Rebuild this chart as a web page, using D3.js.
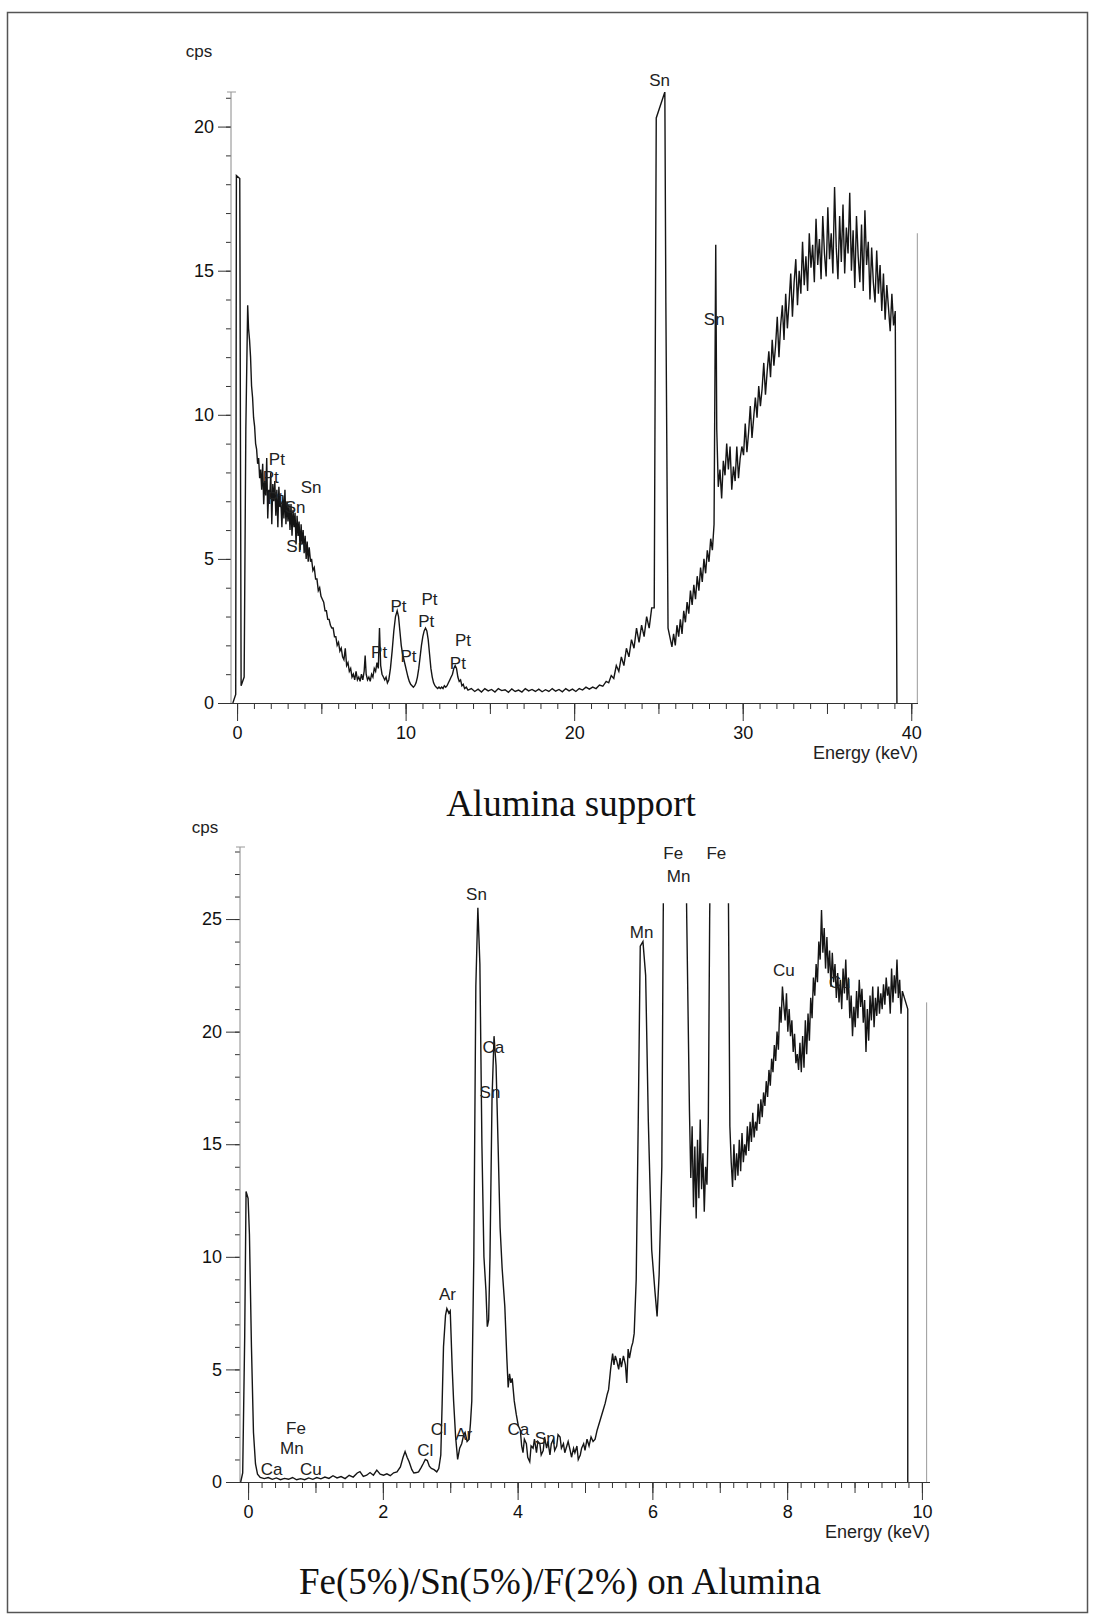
<!DOCTYPE html>
<html>
<head>
<meta charset="utf-8">
<script src="https://cdn.jsdelivr.net/npm/d3@7"></script>
<style>
  body { margin: 0; background: #fff; }
  svg { display: block; }
  .lbl { font-family: "Liberation Sans", Arial, sans-serif; }
  .title { font-family: "Liberation Serif", "Times New Roman", serif; }
</style>
</head>
<body>
<svg id="chart" width="1093" height="1618"></svg>
<script>
// ---------- EDS spectrum of the alumina support (energy keV, counts per second) ----------
const supportSpectrum = [
  [-0.25,0.0],[-0.08,0.3],[-0.04,18.3],[0.16,18.2],[0.24,0.6],[0.42,0.9],[0.52,9.5],[0.63,13.8],
  [0.68,13.0],[0.74,12.6],[0.8,12.0],[0.86,11.0],[0.92,10.6],[0.98,9.9],[1.04,9.6],[1.1,9.0],
  [1.16,8.8],[1.22,8.3],[1.28,8.5],[1.34,7.8],[1.4,8.1],[1.46,7.4],
  [1.52,8.3],[1.58,6.9],[1.64,7.7],[1.70,7.2],[1.76,8.5],[1.82,6.4],[1.88,7.4],[1.94,7.1],
  [2.00,8.0],[2.06,6.2],[2.12,7.6],[2.18,7.0],[2.24,7.7],[2.30,6.5],[2.36,7.4],[2.42,6.1],
  [2.48,7.5],[2.54,6.8],[2.60,7.0],[2.66,6.1],[2.72,7.2],[2.78,6.4],[2.84,7.4],[2.90,6.2],
  [2.96,7.0],[3.02,6.3],[3.08,6.9],[3.14,6.0],[3.20,6.9],[3.26,5.8],[3.32,6.7],[3.38,6.1],
  [3.44,6.6],[3.50,5.5],[3.56,6.5],[3.62,5.8],[3.68,6.3],[3.74,5.3],[3.80,6.2],[3.86,5.5],
  [3.92,6.0],[3.98,5.2],[4.04,5.8],[4.10,5.0],[4.16,5.6],[4.22,4.9],[4.28,5.4],
  [4.36,4.9],[4.42,5.0],[4.5,4.6],[4.58,4.7],[4.66,4.3],[4.74,4.3],[4.82,3.9],[4.9,4.0],
  [4.98,3.7],[5.06,3.6],[5.14,3.5],[5.22,3.2],[5.3,3.2],[5.38,2.9],[5.46,2.9],[5.54,2.7],
  [5.62,2.6],[5.7,2.6],[5.78,2.3],[5.86,2.3],[5.94,2.0],[6.02,2.1],[6.1,1.8],[6.18,1.9],
  [6.26,1.6],[6.34,1.5],[6.42,1.9],[6.5,1.3],[6.58,1.4],[6.66,1.1],[6.74,1.2],[6.82,0.9],
  [6.9,1.0],[6.98,0.8],[7.06,1.1],[7.14,0.8],[7.22,0.9],[7.3,0.75],[7.38,1.0],[7.46,0.8],
  [7.54,1.1],[7.6,1.65],[7.66,1.0],[7.74,0.8],[7.82,0.9],[7.9,0.75],[7.98,1.0],[8.06,0.9],
  [8.14,1.2],[8.22,1.1],[8.3,1.4],[8.38,1.2],[8.45,2.6],[8.52,1.3],[8.6,1.0],[8.68,0.9],
  [8.76,0.8],[8.84,0.9],[8.92,0.7],[9.0,0.8],[9.1,1.2],[9.2,1.8],[9.3,2.5],[9.4,3.0],
  [9.5,3.2],[9.58,3.0],[9.66,2.5],[9.74,2.0],[9.82,1.7],[9.9,1.5],[9.98,1.3],[10.06,1.1],
  [10.14,0.9],[10.22,0.75],[10.3,0.65],[10.38,0.6],[10.46,0.55],[10.54,0.6],[10.62,0.7],
  [10.7,0.9],[10.78,1.2],[10.86,1.6],[10.94,2.0],[11.02,2.3],[11.1,2.5],[11.18,2.6],
  [11.26,2.5],[11.34,2.2],[11.42,1.7],[11.5,1.2],[11.58,0.9],[11.66,0.7],[11.74,0.6],
  [11.82,0.55],[11.9,0.5],[11.98,0.55],[12.06,0.5],[12.14,0.55],[12.22,0.5],[12.3,0.6],
  [12.38,0.55],[12.46,0.6],[12.54,0.7],[12.62,0.8],[12.7,0.9],[12.78,1.0],[12.86,1.2],
  [12.94,1.3],[13.02,1.2],[13.1,0.9],[13.18,0.75],[13.26,0.8],[13.34,0.6],[13.42,0.65],
  [13.5,0.5],[13.6,0.55],[13.7,0.45],
  [13.9,0.5],[14.1,0.4],[14.3,0.48],[14.5,0.38],[14.7,0.5],[14.9,0.42],[15.1,0.47],[15.3,0.38],
  [15.5,0.5],[15.7,0.43],[15.9,0.46],[16.1,0.37],[16.3,0.49],[16.5,0.4],[16.7,0.45],[16.9,0.38],
  [17.1,0.5],[17.3,0.42],[17.5,0.47],[17.7,0.4],[17.9,0.48],[18.1,0.39],[18.3,0.46],[18.5,0.4],
  [18.7,0.5],[18.9,0.41],[19.1,0.47],[19.3,0.39],[19.5,0.5],[19.7,0.42],[19.9,0.48],[20.1,0.4],
  [20.3,0.5],[20.5,0.45],[20.7,0.55],[20.9,0.48],[21.1,0.55],[21.3,0.5],[21.5,0.62],[21.7,0.58],
  [21.9,0.75],[22.05,0.7],[22.2,0.95],[22.35,0.85],[22.5,1.3],[22.65,1.1],[22.8,1.6],[22.95,1.3],
  [23.1,1.9],[23.25,1.6],[23.4,2.2],[23.55,1.9],[23.7,2.6],[23.85,2.1],[24.0,2.7],[24.15,2.3],
  [24.3,3.0],[24.45,2.6],[24.6,3.3],[24.75,3.3],
  [24.87,20.3],[25.38,21.2],[25.44,13.9],[25.57,2.6],[25.8,1.95],
  [25.9,2.4],[26.0,2.0],[26.1,2.7],[26.2,2.3],[26.3,2.9],[26.4,2.4],[26.5,3.2],[26.6,2.8],
  [26.7,3.5],[26.8,3.1],[26.9,3.9],[27.0,3.4],[27.1,4.1],[27.2,3.6],[27.3,4.4],[27.4,3.9],
  [27.5,4.7],[27.6,4.2],[27.7,5.0],[27.8,4.5],[27.9,5.3],[28.0,4.9],[28.1,5.7],[28.2,5.3],
  [28.3,6.2],[28.4,15.9],[28.46,9.5],[28.55,7.5],[28.65,8.1],[28.75,7.1],[28.85,8.4],[28.95,7.9],
  [29.05,9.0],[29.15,8.1],[29.25,8.9],[29.35,7.4],[29.45,8.2],[29.55,7.7],[29.65,8.9],[29.75,7.8],
  [29.85,8.5],[29.95,8.9],[30.05,8.6],[30.15,9.7],[30.25,8.7],[30.35,9.4],[30.45,10.3],[30.55,9.2],
  [30.65,9.9],[30.75,10.6],[30.85,9.9],[30.95,11.0],[31.05,10.3],[31.15,10.9],[31.25,11.8],
  [31.35,10.7],[31.45,11.5],[31.55,12.2],[31.65,11.3],[31.75,12.6],[31.85,11.7],[31.95,12.4],
  [32.05,13.4],[32.15,12.0],[32.25,13.1],[32.35,13.8],[32.45,12.6],[32.55,14.2],[32.65,13.0],
  [32.75,13.9],[32.85,14.9],[32.95,13.4],[33.05,14.6],[33.15,15.4],[33.25,13.8],[33.35,15.0],
  [33.45,14.2],[33.55,16.0],[33.65,14.5],[33.75,15.5],[33.85,14.3],[33.95,16.3],[34.05,15.1],
  [34.15,15.9],[34.25,14.6],[34.35,16.8],[34.45,15.2],[34.55,16.1],[34.65,14.7],[34.75,16.9],
  [34.85,15.6],[34.95,14.8],[35.05,17.2],[35.15,15.4],[35.25,16.3],[35.35,14.9],[35.45,17.9],
  [35.55,15.8],[35.65,14.7],[35.75,16.9],[35.85,15.3],[35.95,17.3],[36.05,14.9],[36.15,16.5],
  [36.25,15.6],[36.35,17.7],[36.45,15.0],[36.55,16.4],[36.65,14.4],[36.75,16.9],[36.85,15.5],
  [36.95,14.6],[37.05,16.6],[37.15,14.3],[37.25,17.1],[37.35,15.2],[37.45,16.0],[37.55,14.0],
  [37.65,15.8],[37.75,14.6],[37.85,13.9],[37.95,15.7],[38.05,14.2],[38.15,15.2],[38.25,13.6],
  [38.35,14.9],[38.45,13.3],[38.55,14.5],[38.65,13.7],[38.75,12.9],[38.85,14.2],[38.95,13.1],
  [39.05,13.6],[39.15,0.0]
];
// cursor line at the right end of the energy window [keV, cps]
const supportCursor = [40.36, 16.3];
const supportXTickLabels = [0, 10, 20, 30, 40];
const supportYTickLabels = [0, 5, 10, 15, 20];
const supportPeakLabels = [
  ["Sn", 25.07, 21.6], ["Sn", 28.31, 13.3],
  ["Pt", 2.36, 8.46], ["Pt", 2.0, 7.84], ["Pt", 2.26, 7.1],
  ["Sn", 4.39, 7.49], ["Sn", 3.44, 6.8], ["Sn", 3.54, 5.43],
  ["Pt", 8.43, 1.76], ["Pt", 9.58, 3.34], ["Pt", 10.17, 1.63],
  ["Pt", 11.42, 3.58], ["Pt", 11.22, 2.82], ["Pt", 13.4, 2.16], ["Pt", 13.1, 1.38]
];

// ---------- EDS spectrum of Fe(5%)/Sn(5%)/F(2%) on alumina ----------
const catalystSpectrum = [
  [-0.11,0.0],[-0.08,0.4],[-0.05,6.5],[-0.03,12.9],[0.0,12.6],[0.02,11.0],[0.05,6.0],[0.08,2.2],
  [0.11,0.8],[0.14,0.35],[0.18,0.2],[0.24,0.15],[0.3,0.2],[0.36,0.12],[0.42,0.18],[0.48,0.1],
  [0.54,0.16],[0.6,0.12],[0.66,0.2],[0.72,0.1],[0.78,0.15],[0.84,0.1],[0.9,0.18],[0.96,0.12],
  [1.02,0.2],[1.08,0.14],[1.14,0.22],[1.2,0.16],[1.26,0.28],[1.32,0.18],[1.38,0.24],[1.44,0.15],
  [1.5,0.3],[1.56,0.22],[1.62,0.4],[1.66,0.46],[1.71,0.25],[1.76,0.3],[1.81,0.42],[1.86,0.3],
  [1.91,0.53],[1.96,0.35],[2.01,0.3],[2.06,0.36],[2.11,0.28],[2.16,0.41],[2.21,0.45],[2.26,0.67],
  [2.3,1.1],[2.33,1.35],[2.36,1.1],[2.39,0.9],[2.43,0.55],[2.46,0.4],[2.5,0.42],[2.53,0.45],
  [2.57,0.65],[2.6,0.82],[2.63,1.0],[2.66,0.95],[2.69,0.7],[2.72,0.6],[2.76,0.55],[2.8,0.45],
  [2.83,0.6],[2.86,1.2],[2.88,3.5],[2.9,6.0],[2.93,7.4],[2.95,7.7],[2.98,7.5],[3.0,7.6],
  [3.03,5.0],[3.05,3.6],[3.08,2.0],[3.11,1.0],[3.14,1.5],[3.17,1.7],[3.2,2.1],[3.22,2.2],
  [3.25,1.8],[3.28,1.9],[3.3,2.6],[3.32,3.6],[3.35,10.0],[3.38,22.0],[3.41,25.5],[3.44,23.0],
  [3.47,15.0],[3.5,10.0],[3.53,8.5],[3.55,6.9],[3.57,7.2],[3.59,10.0],[3.62,17.0],[3.65,19.8],
  [3.68,18.5],[3.71,15.0],[3.74,11.3],[3.77,9.5],[3.81,7.8],[3.84,5.5],[3.86,4.2],[3.88,4.8],
  [3.9,4.4],[3.92,4.6],[3.95,3.6],[3.98,3.0],[4.01,2.5],[4.04,2.3],[4.06,1.6],[4.08,1.3],
  [4.1,1.9],[4.13,1.7],[4.15,1.1],[4.18,0.9],[4.2,1.6],[4.23,1.5],[4.25,1.9],[4.28,1.3],
  [4.3,1.8],[4.33,1.7],[4.35,1.2],[4.38,1.4],[4.4,2.0],[4.43,1.5],[4.45,1.8],[4.48,1.2],
  [4.5,1.7],[4.53,1.9],[4.55,1.4],[4.58,1.6],[4.6,2.1],[4.63,2.0],[4.65,1.5],[4.68,1.7],
  [4.7,1.3],[4.73,1.6],[4.75,1.8],[4.78,1.4],[4.8,1.1],[4.83,1.5],[4.85,1.3],[4.88,1.6],
  [4.9,1.0],[4.93,1.2],[4.95,1.5],[4.98,1.7],[5.0,1.4],[5.03,1.9],[5.06,1.6],[5.09,2.0],
  [5.12,1.8],[5.15,1.9],[5.18,2.3],[5.2,2.5],[5.23,2.8],[5.25,3.0],[5.27,3.2],[5.3,3.5],
  [5.33,3.9],[5.35,4.1],[5.38,5.0],[5.41,5.7],[5.43,5.2],[5.45,5.6],[5.47,5.4],[5.5,5.0],
  [5.52,5.5],[5.54,5.1],[5.57,5.6],[5.6,5.2],[5.62,4.4],[5.64,5.9],[5.66,5.5],[5.69,6.0],
  [5.71,6.2],[5.73,6.6],[5.76,9.0],[5.79,16.0],[5.82,23.8],[5.86,24.0],[5.9,22.5],[5.94,16.0],
  [5.99,10.3],[6.04,8.4],[6.07,7.35],[6.1,9.2],[6.14,14.0],[6.16,24.7],[6.2,40.0],[6.3,60.0],
  [6.45,40.0],[6.51,25.0],[6.55,16.5],[6.57,13.5],[6.59,15.8],[6.61,12.2],[6.63,14.9],[6.65,11.7],
  [6.67,15.2],[6.69,12.6],[6.71,16.1],[6.73,13.0],[6.75,14.6],[6.77,12.0],[6.79,14.0],[6.81,13.2],
  [6.83,16.0],[6.85,25.0],[6.9,40.0],[7.05,50.0],[7.12,30.0],[7.15,15.8],[7.17,14.2],[7.19,13.1],
  [7.21,15.0],[7.23,13.4],[7.25,14.6],[7.27,13.6],[7.29,15.2],[7.31,13.8],[7.33,15.5],[7.35,14.2],
  [7.37,15.0],[7.39,14.5],[7.41,15.8],[7.43,14.7],[7.45,16.0],[7.47,15.1],[7.49,16.4],[7.51,15.3],
  [7.53,16.0],[7.55,15.6],[7.57,16.8],[7.59,15.9],[7.61,17.0],[7.63,16.2],[7.65,17.3],[7.67,16.7],
  [7.69,17.8],[7.71,17.1],[7.73,18.3],[7.75,17.6],[7.77,18.8],[7.79,18.2],[7.81,19.4],[7.83,18.7],
  [7.85,20.0],[7.87,19.2],[7.89,21.1],[7.91,20.4],[7.93,22.0],[7.95,21.2],[7.97,20.5],[7.99,21.7],
  [8.01,20.0],[8.03,21.0],[8.05,19.8],[8.07,20.5],[8.09,19.1],[8.11,19.9],[8.13,18.6],[8.15,19.0],
  [8.17,18.3],[8.19,19.5],[8.21,18.2],[8.23,19.8],[8.25,18.4],[8.27,20.5],[8.29,19.0],[8.31,20.8],
  [8.33,19.6],[8.35,21.5],[8.37,20.6],[8.39,22.4],[8.41,21.6],[8.43,23.0],[8.45,22.2],[8.47,24.0],
  [8.49,23.2],[8.51,25.4],[8.53,23.5],[8.55,24.6],[8.57,22.8],[8.59,24.2],[8.61,22.6],[8.63,23.6],
  [8.65,22.0],[8.67,23.5],[8.69,22.2],[8.71,23.0],[8.73,21.5],[8.75,22.6],[8.77,21.3],[8.79,22.3],
  [8.81,21.0],[8.83,22.8],[8.85,21.7],[8.87,23.2],[8.89,21.4],[8.91,22.4],[8.93,20.6],[8.95,21.6],
  [8.97,19.8],[8.99,21.1],[9.01,20.2],[9.03,21.8],[9.05,20.6],[9.07,22.3],[9.09,21.1],[9.11,21.9],
  [9.13,20.4],[9.15,21.4],[9.17,19.1],[9.19,21.0],[9.21,19.6],[9.23,21.6],[9.25,20.5],[9.27,22.0],
  [9.29,20.2],[9.31,21.5],[9.33,20.7],[9.35,22.0],[9.37,20.8],[9.39,21.7],[9.41,21.0],[9.43,22.1],
  [9.45,21.2],[9.47,22.4],[9.49,21.6],[9.51,22.0],[9.53,20.8],[9.55,22.8],[9.57,21.3],[9.59,22.5],
  [9.61,21.7],[9.63,23.2],[9.65,21.5],[9.67,22.3],[9.69,20.8],[9.71,21.8],[9.79,21.0],[9.79,0.0]
];
const catalystCursor = [10.07, 21.3];
const catalystXTickLabels = [0, 2, 4, 6, 8, 10];
const catalystYTickLabels = [0, 5, 10, 15, 20, 25];
const catalystPeakLabels = [
  ["Fe", 0.71, 2.39], ["Mn", 0.65, 1.5], ["Ca", 0.35, 0.56], ["Cu", 0.93, 0.56],
  ["Cl", 2.83, 2.34], ["Cl", 2.63, 1.42], ["Ar", 2.96, 8.34], ["Ar", 3.2, 2.09],
  ["Ca", 4.01, 2.31], ["Sn", 4.41, 1.94], ["Sn", 3.39, 26.1], ["Ca", 3.64, 19.3],
  ["Sn", 3.59, 17.3], ["Fe", 6.31, 27.9], ["Mn", 6.39, 26.9], ["Fe", 6.95, 27.9],
  ["Mn", 5.84, 24.4], ["Cu", 7.95, 22.7], ["Cu", 8.78, 22.2]
];

const panelTitles = ["Alumina support", "Fe(5%)/Sn(5%)/F(2%) on Alumina"];
const axisTitles = { y: "cps", x: "Energy (keV)" };

// ---------- layout ----------
const svg = d3.select("#chart");
svg.append("rect").attr("x", 0).attr("y", 0).attr("width", 1093).attr("height", 1618).attr("fill", "#fff");
// page frame
svg.append("rect").attr("x", 7.5).attr("y", 12.5).attr("width", 1080).attr("height", 1600)
  .attr("fill", "none").attr("stroke", "#555").attr("stroke-width", 1.5);

const panels = [
  {
    id: "support", spectrum: supportSpectrum, cursor: supportCursor, labels: supportPeakLabels,
    xTicks: supportXTickLabels, yTicks: supportYTickLabels, title: panelTitles[0],
    xDomain: [-0.36, 40.4], xRange: [231, 918], yDomain: [0, 21.2], yRange: [703, 92],
    traceCeiling: 21.2,
    minorStep: 1, midStep: 5, yMajorLen: 13, cpsPos: [199, 57], titlePos: [571, 816]
  },
  {
    id: "catalyst", spectrum: catalystSpectrum, cursor: catalystCursor, labels: catalystPeakLabels,
    xTicks: catalystXTickLabels, yTicks: catalystYTickLabels, title: panelTitles[1],
    xDomain: [-0.12, 10.12], xRange: [240, 930], yDomain: [0, 28.2], yRange: [1482, 847],
    traceCeiling: 25.7,
    minorStep: 0.2, midStep: 1, yMajorLen: 14, cpsPos: [205, 833], titlePos: [560, 1594]
  }
];

const defs = svg.append("defs");

function styleAxis(sel, size) {
  sel.select(".domain").remove();
  sel.selectAll(".tick line").attr("stroke", "#333").attr("stroke-width", 1);
  sel.selectAll(".tick text")
    .attr("class", "lbl").attr("font-size", size).attr("fill", "#111");
}

panels.forEach(p => {
  const x = d3.scaleLinear().domain(p.xDomain).range(p.xRange);
  const y = d3.scaleLinear().domain(p.yDomain).range(p.yRange);
  const g = svg.append("g").attr("id", p.id);
  const x0 = p.xRange[0], x1 = p.xRange[1], yb = p.yRange[0], yt = p.yRange[1];

  // the trace is cut off at the display ceiling of the spectrum window
  const ceil = y(p.traceCeiling);
  defs.append("clipPath").attr("id", p.id + "-clip").append("rect")
    .attr("x", x0).attr("y", ceil).attr("width", x1 - x0).attr("height", yb - ceil + 2);

  // y axis: minor ticks every 1 cps, labelled ticks every 5 cps
  const yMinor = d3.range(0, Math.floor(p.yDomain[1]) + 1, 1);
  g.append("g").attr("transform", `translate(${x0},0)`)
    .call(d3.axisLeft(y).tickValues(yMinor).tickSize(5).tickFormat(""))
    .call(s => styleAxis(s, 18));
  g.append("g").attr("transform", `translate(${x0},0)`)
    .call(d3.axisLeft(y).tickValues(p.yTicks).tickSize(p.yMajorLen).tickPadding(4))
    .call(s => styleAxis(s, 18));
  g.append("line").attr("x1", x0).attr("x2", x0).attr("y1", yb).attr("y2", yt)
    .attr("stroke", "#8a8a8a").attr("stroke-width", 1);
  g.append("line").attr("x1", x0 - 4).attr("x2", x0 + 5).attr("y1", yt).attr("y2", yt)
    .attr("stroke", "#999").attr("stroke-width", 1);

  // x axis: minor, medium and labelled ticks
  const nMinor = Math.round(p.xTicks[p.xTicks.length - 1] / p.minorStep);
  const xMinor = d3.range(0, nMinor + 1).map(i => +(i * p.minorStep).toFixed(3));
  const xMid = xMinor.filter(v => Math.abs(v / p.midStep - Math.round(v / p.midStep)) < 1e-6);
  g.append("g").attr("transform", `translate(0,${yb})`)
    .call(d3.axisBottom(x).tickValues(xMinor).tickSize(6).tickFormat(""))
    .call(s => styleAxis(s, 18));
  g.append("g").attr("transform", `translate(0,${yb})`)
    .call(d3.axisBottom(x).tickValues(xMid).tickSize(11).tickFormat(""))
    .call(s => styleAxis(s, 18));
  g.append("g").attr("transform", `translate(0,${yb})`)
    .call(d3.axisBottom(x).tickValues(p.xTicks).tickSize(18).tickPadding(5))
    .call(s => styleAxis(s, 18));
  g.append("line").attr("x1", x0).attr("x2", x1).attr("y1", yb + 0.5).attr("y2", yb + 0.5)
    .attr("stroke", "#333").attr("stroke-width", 1);

  // cursor marker
  g.append("line")
    .attr("x1", x(p.cursor[0])).attr("x2", x(p.cursor[0]))
    .attr("y1", y(0)).attr("y2", y(p.cursor[1]))
    .attr("stroke", "#9a9a9a").attr("stroke-width", 1);

  // spectrum trace
  const line = d3.line().x(d => x(d[0])).y(d => y(d[1]));
  g.append("path").datum(p.spectrum)
    .attr("clip-path", `url(#${p.id}-clip)`)
    .attr("d", line).attr("fill", "none")
    .attr("stroke", "#151515").attr("stroke-width", 1.4).attr("stroke-linejoin", "miter");

  // element identifications
  g.selectAll("text.peak").data(p.labels).join("text")
    .attr("class", "lbl peak")
    .attr("x", d => x(d[1])).attr("y", d => y(d[2]))
    .attr("text-anchor", "middle").attr("dominant-baseline", "central")
    .attr("font-size", 17).attr("fill", "#222")
    .text(d => d[0]);

  // axis captions
  g.append("text").attr("class", "lbl").attr("x", p.cpsPos[0]).attr("y", p.cpsPos[1])
    .attr("text-anchor", "middle").attr("font-size", 17).attr("fill", "#222").text(axisTitles.y);
  g.append("text").attr("class", "lbl").attr("x", x1).attr("y", yb + 56)
    .attr("text-anchor", "end").attr("font-size", 18).attr("fill", "#222").text(axisTitles.x);

  // panel title
  g.append("text").attr("class", "title").attr("x", p.titlePos[0]).attr("y", p.titlePos[1])
    .attr("text-anchor", "middle").attr("font-size", 37).attr("fill", "#111").text(p.title);
});
</script>
</body>
</html>
